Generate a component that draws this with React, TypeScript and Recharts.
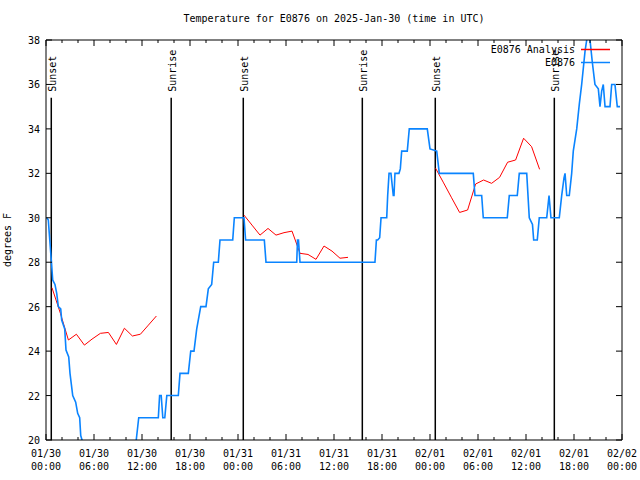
import React from 'react';
import { LineChart, Line, XAxis, YAxis, ReferenceLine } from 'recharts';

const FONT = '"DejaVu Sans Mono", "Liberation Mono", monospace';

// time axis is hours since 2025-01-30 00:00 UTC
const xTicks = [0, 2, 4, 6, 8, 10, 12, 14, 16, 18, 20, 22, 24, 26, 28, 30, 32, 34, 36, 38, 40, 42, 44, 46, 48, 50, 52, 54, 56, 58, 60, 62, 64, 66, 68, 70, 72];
const yTicks = [20, 22, 24, 26, 28, 30, 32, 34, 36, 38];

// E0876 Analysis (three overnight runs, null breaks the line)
const analysisHours = [
  0.75, 1.8, 2.8, 3.8, 4.8, 5.75, 6.8, 7.8, 8.8, 9.8, 10.8, 11.8, 12.8, 13.8,
  14.5,
  24.75, 25.75, 26.75, 27.75, 28.75, 29.75, 30.75, 31.75, 32.75, 33.75, 34.75, 35.75, 36.75, 37.75,
  42,
  48.7, 49.7, 50.7, 51.7, 52.7, 53.7, 54.7, 55.7, 56.7, 57.7, 58.7, 59.7, 60.7, 61.7,
];
const analysisTemps = [
  26.85, 25.7, 24.5, 24.76, 24.27, 24.54, 24.8, 24.84, 24.3, 25.03, 24.68, 24.76, 25.17, 25.58,
  null,
  30.12, 29.67, 29.22, 29.52, 29.22, 29.33, 29.4, 28.4, 28.35, 28.13, 28.73, 28.5, 28.18, 28.22,
  null,
  32.23, 31.57, 30.9, 30.24, 30.35, 31.52, 31.7, 31.55, 31.82, 32.5, 32.6, 33.58, 33.2, 32.18,
];

// E0876 observations
const obsHours = [
  0.1, 0.29, 0.41, 0.66, 0.84, 1.12, 1.34, 1.54, 1.84, 1.96, 2.34, 2.5, 2.84, 3.0, 3.34, 3.71, 3.96, 4.21, 4.34, 4.59,
  4.9, 6.1, 8.0, 9.9, 11.0, 11.25, 11.59, 14.04, 14.2, 14.4, 14.6, 14.85, 15.1, 16.54, 16.75, 17.79,
  18.09, 18.5, 18.84, 19.34, 20.0, 20.29, 20.71, 20.96, 21.54, 21.75, 23.34, 23.54, 24.75, 24.95,
  27.29, 27.5, 31.34, 31.44, 31.56, 31.75, 41.12, 41.3, 41.46, 41.71, 41.88, 42.59, 42.71, 42.88,
  43.12, 43.41, 43.5, 43.62, 44.12, 44.29, 44.46, 45.16, 45.41, 47.66, 48.0, 48.84, 49.16, 53.41,
  53.62, 54.46, 54.66, 57.66, 57.91, 58.91, 59.16, 60.09, 60.41, 60.81, 60.96, 61.41, 61.66, 62.59,
  62.88, 63.12, 64.16, 64.46, 64.75, 64.88, 65.09, 65.41, 65.71, 65.91, 66.34, 66.66, 66.96, 67.38,
  67.59, 67.79, 68.0, 68.29, 68.62, 69.04, 69.25, 69.46, 69.66, 69.88, 70.5, 70.71, 71.12, 71.41, 71.75,
];
const obsTemps = [
  30.0, 29.9, 29.3, 28.1, 27.2, 27.0, 26.6, 26.0, 25.9, 25.4, 25.0, 24.05, 23.74, 23.0, 22.0, 21.7, 21.2, 21.0, 20.2, 19.9,
  19.5, 18.5, 18.0, 18.5, 19.5, 19.9, 21.0, 21.0, 22.0, 22.0, 21.0, 21.0, 22.0, 22.0, 23.0, 23.0,
  24.0, 24.0, 25.0, 26.0, 26.0, 26.8, 27.0, 28.0, 28.0, 29.0, 29.0, 30.0, 30.0, 29.0,
  29.0, 28.0, 28.0, 29.0, 29.0, 28.0, 28.0, 29.0, 29.0, 29.1, 30.0, 30.0, 31.0, 32.0,
  32.0, 31.0, 31.0, 32.0, 32.0, 32.2, 33.0, 33.0, 34.0, 34.0, 33.1, 33.0, 32.0, 32.0,
  31.0, 31.0, 30.0, 30.0, 31.0, 31.0, 32.0, 32.0, 30.0, 29.7, 29.0, 29.0, 30.0, 30.0,
  31.0, 30.0, 30.0, 31.0, 31.8, 32.0, 31.0, 31.0, 32.0, 33.0, 34.0, 35.1, 36.0, 37.5,
  38.0, 38.6, 38.0, 37.0, 36.0, 35.8, 35.0, 35.7, 36.0, 35.0, 35.0, 36.0, 36.0, 35.0, 35.0,
];

const sunNames = ['Sunset', 'Sunrise', 'Sunset', 'Sunrise', 'Sunset', 'Sunrise'];
const sunHours = [0.66, 15.65, 24.66, 39.54, 48.66, 63.54];
const sunLineTop = 35.4;

const analysisData = analysisHours.map((h, i) => ({ h, t: analysisTemps[i] }));
const obsData = obsHours.map((h, i) => ({ h, t: obsTemps[i] }));

const START = Date.UTC(2025, 0, 30);
const pad = (n: number) => String(n).padStart(2, '0');
const tickDate = (h: number) => {
  const d = new Date(START + h * 3600000);
  return [`${pad(d.getUTCMonth() + 1)}/${pad(d.getUTCDate())}`, `${pad(d.getUTCHours())}:00`];
};

const XTick = (props: any) => {
  const { x, y, payload, side } = props;
  const major = payload.value % 6 === 0;
  const len = major ? 6 : 3;
  const dir = side === 'bottom' ? -1 : 1;
  const [d, t] = tickDate(payload.value);
  return (
    <g>
      <line x1={x} y1={y} x2={x} y2={y + dir * len} stroke="#000" />
      {side === 'bottom' && major && (
        <text x={x} y={y} textAnchor="middle" fontFamily={FONT} fontSize={10} fill="#000">
          <tspan x={x} dy={17}>{d}</tspan>
          <tspan x={x} dy={13}>{t}</tspan>
        </text>
      )}
    </g>
  );
};

const YTick = (props: any) => {
  const { x, y, payload, side } = props;
  const dir = side === 'left' ? 1 : -1;
  return (
    <g>
      <line x1={x} y1={y} x2={x + dir * 6} y2={y} stroke="#000" />
      {side === 'left' && (
        <text x={x - 6} y={y} dy={4} textAnchor="end" fontFamily={FONT} fontSize={10} fill="#000">
          {payload.value}
        </text>
      )}
    </g>
  );
};

const App = () => {
  return (
    <div style={{ position: 'absolute', left: 0, top: 0, width: 640, height: 480, background: '#fff' }}>
      <div
        style={{
          position: 'absolute',
          top: 13,
          left: 46,
          width: 576,
          textAlign: 'center',
          fontFamily: FONT,
          fontSize: 10,
          lineHeight: '12px',
        }}
      >
        Temperature for E0876 on 2025-Jan-30 (time in UTC)
      </div>

      <LineChart width={640} height={480} margin={{ top: 0, right: 0, bottom: 0, left: 0 }}>
        <XAxis
          dataKey="h"
          type="number"
          domain={[0, 72]}
          allowDataOverflow
          ticks={xTicks}
          interval={0}
          height={40}
          tickSize={0}
          tickMargin={0}
          tickLine={false}
          axisLine={{ stroke: '#000' }}
          tick={<XTick side="bottom" />}
        />
        <XAxis
          xAxisId="top"
          orientation="top"
          dataKey="h"
          type="number"
          domain={[0, 72]}
          allowDataOverflow
          ticks={xTicks}
          interval={0}
          height={40}
          tickSize={0}
          tickMargin={0}
          tickLine={false}
          axisLine={{ stroke: '#000' }}
          tick={<XTick side="top" />}
        />
        <YAxis
          type="number"
          domain={[20, 38]}
          allowDataOverflow
          ticks={yTicks}
          interval={0}
          width={46}
          tickSize={0}
          tickMargin={0}
          tickLine={false}
          axisLine={{ stroke: '#000' }}
          tick={<YTick side="left" />}
          label={(p: any) => (
            <text
              transform={`translate(${p.viewBox.x + 11}, ${p.viewBox.y + p.viewBox.height / 2}) rotate(-90)`}
              textAnchor="middle"
              fontFamily={FONT}
              fontSize={10}
              fill="#000"
            >
              degrees F
            </text>
          )}
        />
        <YAxis
          yAxisId="right"
          orientation="right"
          type="number"
          domain={[20, 38]}
          allowDataOverflow
          ticks={yTicks}
          interval={0}
          width={18}
          tickSize={0}
          tickMargin={0}
          tickLine={false}
          axisLine={{ stroke: '#000' }}
          tick={<YTick side="right" />}
        />

        {sunHours.map((h, i) => (
          <ReferenceLine
            key={i}
            segment={[{ x: h, y: sunLineTop }, { x: h, y: 20 }]}
            stroke="#000"
            strokeWidth={1.5}
            label={(p: any) => (
              <text
                transform={`translate(${p.viewBox.x + 1}, ${p.viewBox.y - 6}) rotate(-90)`}
                textAnchor="start"
                dominantBaseline="central"
                fontFamily={FONT}
                fontSize={10}
                fill="#000"
              >
                {sunNames[i]}
              </text>
            )}
          />
        ))}

        <Line
          data={analysisData}
          dataKey="t"
          name="E0876 Analysis"
          type="linear"
          stroke="#ff0000"
          strokeWidth={1}
          dot={false}
          isAnimationActive={false}
        />
        <Line
          data={obsData}
          dataKey="t"
          name="E0876"
          type="linear"
          stroke="#0a84ff"
          strokeWidth={1.6}
          dot={false}
          isAnimationActive={false}
        />
      </LineChart>

      {/* Legend */}
      <div style={{ position: 'absolute', top: 43, left: 420, width: 190, fontFamily: FONT, fontSize: 10 }}>
        {[
          { name: 'E0876 Analysis', color: '#ff0000' },
          { name: 'E0876', color: '#0a84ff' },
        ].map((item) => (
          <div key={item.name} style={{ display: 'flex', justifyContent: 'flex-end', alignItems: 'center', height: 13 }}>
            <span>{item.name}</span>
            <svg width={35} height={13}>
              <line x1={6} y1={6.5} x2={35} y2={6.5} stroke={item.color} strokeWidth={1.5} />
            </svg>
          </div>
        ))}
      </div>
    </div>
  );
};

export default App;
